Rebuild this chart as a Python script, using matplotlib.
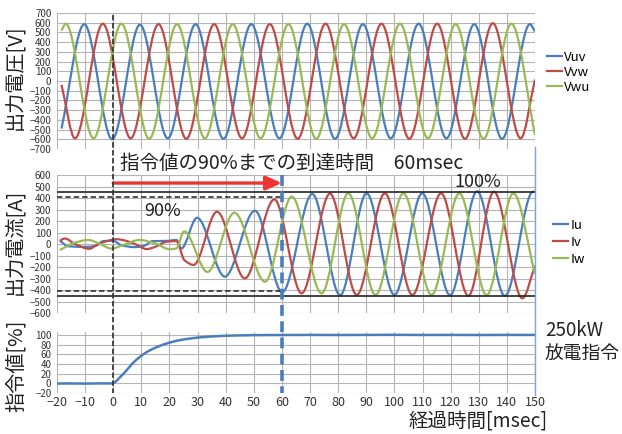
import matplotlib
matplotlib.use('Agg')
import matplotlib.pyplot as plt
from matplotlib.path import Path
from matplotlib.patches import PathPatch
from matplotlib.lines import Line2D
from matplotlib.transforms import blended_transform_factory

plt.rcParams['font.family'] = ['Noto Sans CJK JP', 'DejaVu Sans']

# ---------------- data (turning points) ----------------
# time axis [msec]
x_ticks = list(range(-20, 151, 10))

# output voltage [V]
vuv_t = [-18.4, -10.3, -0.4, 9.5, 19.4, 29.3, 39.2, 49.1, 59.1, 69.0, 78.9, 88.8, 98.7, 108.6, 118.5, 128.4, 138.3, 148.2, 150.0]
vuv_v = [-490, 585, -600, 580, -590, 585, -595, 585, -590, 590, -595, 585, -590, 590, -590, 585, -595, 585, 510]
vvw_t = [-18.4, -13.6, -3.7, 6.2, 16.1, 26.0, 35.9, 45.8, 55.7, 65.6, 75.5, 85.5, 95.4, 105.3, 115.2, 125.1, 135.0, 144.9, 150.0]
vvw_v = [-40, -590, 590, -590, 585, -595, 585, -590, 585, -595, 590, -590, 590, -595, 590, -595, 595, -590, 15]
vwu_t = [-18.4, -16.9, -7.0, 2.9, 12.8, 22.7, 32.6, 42.5, 52.4, 62.3, 72.2, 82.1, 92.1, 102.0, 111.9, 121.8, 131.7, 141.6, 150.0]
vwu_v = [520, 590, -590, 590, -595, 585, -590, 585, -590, 585, -595, 585, -590, 590, -590, 585, -595, 590, -555]

# output current [A]
iu_t = [-19.0, -16.0, -10.0, -6.5, -3.5, 0.0, 3.0, 7.5, 11.0, 14.0, 19.0, 22.5, 24.2, 29.8, 39.7, 50.4, 60.1, 70.8, 80.7, 90.1, 100.0, 109.9, 119.8, 129.4, 139.3, 149.3, 150.0]
iu_v = [29, -20, -25, -18, 25, 28, -12, -27, -15, 25, 27, 35, -40, 228, -284, 290, -420, 435, -445, 441, -443, 441, -445, 458, -452, 455, 452]
iv_t = [-19.0, -17.2, -13.6, -8.5, -5.9, -3.0, 1.2, 4.2, 7.7, 11.9, 14.9, 19.0, 22.5, 25.3, 28.6, 36.9, 46.8, 57.3, 67.0, 77.1, 86.6, 96.6, 106.4, 116.6, 126.3, 135.4, 145.5, 150.0]
iv_v = [28, 48, 0, -42, -9, 20, 42, 30, 0, -44, -25, 20, 25, -140, -182, 281, -299, 388, -429, 438, -443, 441, -443, 441, -450, 455, -472, -190]
iw_t = [-19.0, -13.6, -8.9, -4.7, -0.6, 2.9, 9.4, 14.9, 20.2, 22.5, 25.2, 33.5, 43.1, 54.0, 63.5, 74.1, 83.6, 93.3, 103.2, 113.2, 123.1, 132.8, 142.3, 150.0]
iw_v = [-52, 12, 35, 0, -40, -15, 35, 5, -46, -38, 110, -243, 272, -328, 412, -429, 441, -443, 441, -443, 441, -445, 441, -260]

# command value [%]
cmd_t = [-20, -15, -10, -5, -1, 0, 1, 2.5, 4, 5.5, 7, 8.5, 10, 12, 14, 16, 18, 20, 23, 26, 30, 35, 40, 45, 50, 55, 60,
         70, 80, 90, 100, 110, 120, 130, 140, 150]
cmd_v = [-0.5, -0.3, -0.6, -0.2, -0.3, 0.5, 4, 13, 22, 32, 42, 50, 57, 65, 71, 76, 80.5, 84, 88.5, 91.5, 94.5, 96.8, 98.2, 99, 99.5,
         99.7, 99.8, 100, 99.8, 100, 100.2, 99.9, 100, 99.8, 100, 100]

# reference levels [A]
level_100 = 450
level_90 = 405
t_reach = 60

v_labels = ['Vuv', 'Vvw', 'Vwu']
i_labels = ['Iu', 'Iv', 'Iw']
colors = ['#4a7ebb', '#be4b48', '#98b954']

# ---------------- drawing ----------------
W, H = 622, 434
fig = plt.figure(figsize=(W / 100, H / 100), dpi=100)


def fax(l, t, r, b):
    return fig.add_axes([l / W, 1 - b / H, (r - l) / W, (b - t) / H])


def smooth_path(ts, vs):
    """Excel-like smoothed line: cubic Bezier segments through the read points."""
    n = len(ts)
    sec = [(vs[i + 1] - vs[i]) / (ts[i + 1] - ts[i]) for i in range(n - 1)]
    m = [0.0] * n
    m[0] = sec[0]
    m[-1] = sec[-1]
    for i in range(1, n - 1):
        a, b = sec[i - 1], sec[i]
        if a * b <= 0:
            m[i] = 0.0
        else:
            m[i] = 2.0 / (1.0 / a + 1.0 / b)
    verts = [(ts[0], vs[0])]
    codes = [Path.MOVETO]
    for i in range(n - 1):
        dt = ts[i + 1] - ts[i]
        verts += [(ts[i] + dt / 3, vs[i] + m[i] * dt / 3),
                  (ts[i + 1] - dt / 3, vs[i + 1] - m[i + 1] * dt / 3),
                  (ts[i + 1], vs[i + 1])]
        codes += [Path.CURVE4] * 3
    return Path(verts, codes)


ax_v = fax(57, 13, 535, 149)
ax_i = fax(57, 175, 535, 313)
ax_c = fax(57, 332, 535, 393)

for ax in (ax_v, ax_i, ax_c):
    ax.set_xlim(-20, 150)
    ax.set_xticks(x_ticks)
    ax.grid(True, color='#b4b4b4', lw=0.8)
    ax.set_axisbelow(True)
    for s in ax.spines.values():
        s.set_visible(False)
    ax.tick_params(length=0, labelsize=7, colors='#333333', pad=4)

ax_v.set_ylim(-700, 700)
ax_v.set_yticks(range(-700, 701, 100))
ax_v.tick_params(labelbottom=False)
ax_i.set_ylim(-600, 600)
ax_i.set_yticks(range(-600, 601, 100))
ax_i.tick_params(labelbottom=False)
ax_c.set_ylim(-20, 106)
ax_c.set_yticks(range(-20, 101, 20))
ax_c.tick_params(axis='x', labelsize=9, pad=2)

# voltage
for (ts, vs), c in zip([(vuv_t, vuv_v), (vvw_t, vvw_v), (vwu_t, vwu_v)], colors):
    ax_v.add_patch(PathPatch(smooth_path(ts, vs), fill=False, edgecolor=c, lw=1.6, joinstyle='round'))
h = [Line2D([], [], color=c, lw=1.6) for c in colors]
ax_v.legend(h, v_labels, loc='upper left', bbox_to_anchor=(547 / W, 1 - 51 / H), bbox_transform=fig.transFigure,
            frameon=False, fontsize=9.5, handlelength=1.15, handletextpad=0.15, labelspacing=0.15,
            borderpad=0, borderaxespad=0)

# current
ax_i.axhline(level_100, color='#222222', lw=1.2, zorder=1.5)
ax_i.axhline(-level_100, color='#222222', lw=1.2, zorder=1.5)
ax_i.hlines([level_90, -level_90], -20, t_reach, colors='#222222', linestyles=(0, (3.5, 2)), lw=1.1, zorder=1.5)
for (ts, vs), c in zip([(iu_t, iu_v), (iv_t, iv_v), (iw_t, iw_v)], colors):
    ax_i.add_patch(PathPatch(smooth_path(ts, vs), fill=False, edgecolor=c, lw=1.6, joinstyle='round'))
h = [Line2D([], [], color=c, lw=1.6) for c in colors]
ax_i.legend(h, i_labels, loc='upper left', bbox_to_anchor=(553 / W, 1 - 219 / H), bbox_transform=fig.transFigure,
            frameon=False, fontsize=9.5, handlelength=1.15, handletextpad=0.15, labelspacing=0.3,
            borderpad=0, borderaxespad=0)
ax_i.annotate('', xy=(t_reach, 530), xytext=(0, 530),
              arrowprops=dict(arrowstyle='-|>,head_length=0.95,head_width=0.42', mutation_scale=10,
                              color='#ee3333', lw=2.4, shrinkA=0, shrinkB=0))
ax_i.text(17.7, 287, '90%', fontsize=13, ha='center', va='center', color='#222222')
ax_i.text(129.5, 540, '100%', fontsize=13, ha='center', va='center', color='#222222')

# command
ax_c.plot(cmd_t, cmd_v, color=colors[0], lw=1.8)

# vertical markers spanning the panels
tr = blended_transform_factory(ax_c.transData, fig.transFigure)
fig.add_artist(Line2D([0, 0], [1 - 15 / H, 1 - 393 / H], transform=tr, color='#3a3a3a', lw=1.3,
                      linestyle=(0, (3, 1.4))))
fig.add_artist(Line2D([t_reach, t_reach], [1 - 175 / H, 1 - 393 / H], transform=tr, color=colors[0], lw=2.6,
                      linestyle=(0, (3, 1.5))))
fig.add_artist(Line2D([150, 150], [1 - 147 / H, 1 - 395 / H], transform=tr, color='#7aa6da', lw=1.0))

# texts
fig.text(120 / W, 1 - 163 / H, '指令値の90%までの到達時間\u300060msec', fontsize=14, ha='left', va='center',
         color='#222222')
fig.text(16 / W, 1 - 77 / H, '出力電圧[V]', rotation=90, fontsize=14.5, ha='center', va='center', color='#222222')
fig.text(16 / W, 1 - 242 / H, '出力電流[A]', rotation=90, fontsize=14.5, ha='center', va='center', color='#222222')
fig.text(16 / W, 1 - 366 / H, '指令値[%]', rotation=90, fontsize=14.5, ha='center', va='center', color='#222222')
fig.text(545 / W, 1 - 330 / H, '250kW', fontsize=13.5, ha='left', va='center', color='#222222')
fig.text(545 / W, 1 - 353 / H, '放電指令', fontsize=13.5, ha='left', va='center', color='#222222')
fig.text(548 / W, 1 - 421 / H, '経過時間[msec]', fontsize=14, ha='right', va='center', color='#222222')

fig.savefig('out.png', dpi=100)
